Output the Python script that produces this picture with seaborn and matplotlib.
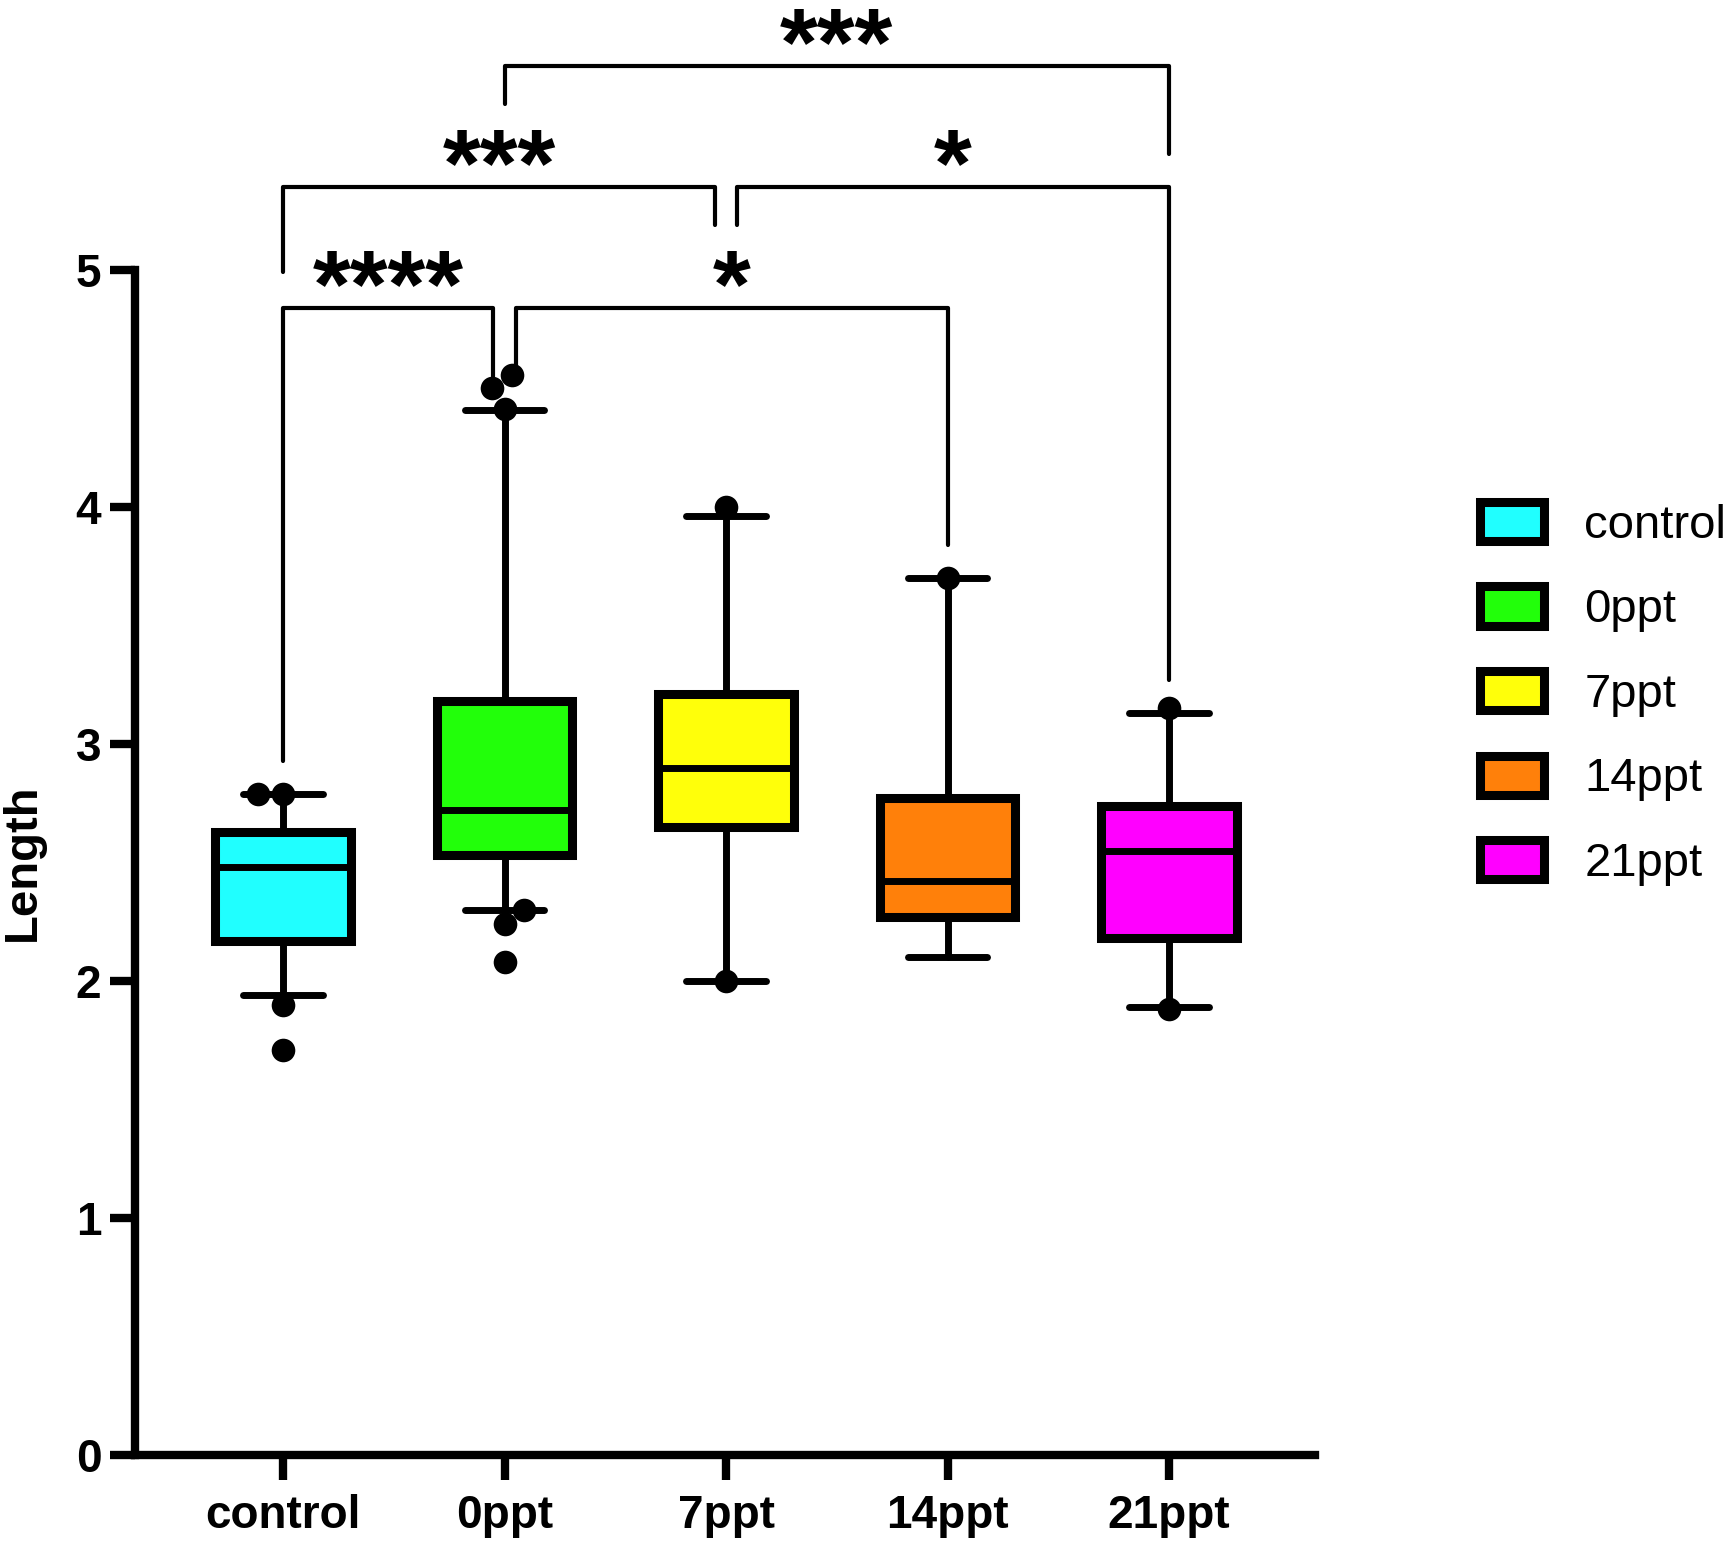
import pandas as pd
import matplotlib.pyplot as plt
import seaborn as sns
from matplotlib.patches import Patch

# Box summary values
groups = ['control', '0ppt', '7ppt', '14ppt', '21ppt']
q1 = [2.17, 2.53, 2.65, 2.27, 2.18]
med = [2.48, 2.72, 2.90, 2.42, 2.55]
q3 = [2.63, 3.18, 3.21, 2.77, 2.74]
whis_lo = [1.94, 2.30, 2.00, 2.10, 1.89]
whis_hi = [2.79, 4.41, 3.96, 3.70, 3.13]
colors = ['#20FFFF', '#22FF0A', '#FFFF0A', '#FF800A', '#FF00FF']

# individual points drawn beyond / at the whiskers
flier_group = ['control', 'control', 'control', 'control',
               '0ppt', '0ppt', '0ppt', '0ppt', '0ppt', '0ppt',
               '7ppt', '7ppt', '14ppt', '21ppt', '21ppt']
flier_value = [2.79, 2.79, 1.90, 1.71,
               4.415, 4.50, 4.556, 2.30, 2.24, 2.08,
               4.00, 2.00, 3.70, 3.15, 1.88]

# significance comparisons
comp_left = ['control', '0ppt', 'control', '7ppt', '0ppt']
comp_right = ['0ppt', '14ppt', '7ppt', '21ppt', '21ppt']
comp_label = ['****', '*', '***', '*', '***']
comp_level = [4.84, 4.84, 5.35, 5.35, 5.86]
comp_left_end = [2.93, 4.54, 4.99, 5.19, 5.70]
comp_right_end = [4.54, 3.84, 5.19, 3.27, 5.49]
comp_left_dx = [0.0, 0.05, 0.0, 0.05, 0.0]
comp_right_dx = [-0.05, 0.0, -0.05, 0.0, 0.0]

sns.set_style('ticks')
plt.rcParams['font.family'] = ['Liberation Sans', 'DejaVu Sans']
plt.rcParams.update({'text.color': 'black', 'axes.labelcolor': 'black',
                     'xtick.color': 'black', 'ytick.color': 'black',
                     'axes.edgecolor': 'black'})

fig = plt.figure(figsize=(17.26, 15.42), dpi=100)
ax = fig.add_axes([0.078, 0.0564, 0.684, 0.7686])

stats = []
for i, g in enumerate(groups):
    stats.append(dict(label=g, q1=q1[i], med=med[i], q3=q3[i],
                      whislo=whis_lo[i], whishi=whis_hi[i], fliers=[]))

bp = ax.bxp(stats, positions=range(len(groups)), widths=0.61, capwidths=0.36,
            patch_artist=True, showfliers=False,
            boxprops=dict(linewidth=6.5, edgecolor='black'),
            whiskerprops=dict(linewidth=5, color='black'),
            capprops=dict(linewidth=5, color='black', solid_capstyle='round'),
            medianprops=dict(linewidth=5, color='black'))
for patch, c in zip(bp['boxes'], colors):
    patch.set_facecolor(c)

fliers = pd.DataFrame({'group': flier_group, 'value': flier_value})
sns.swarmplot(data=fliers, x='group', y='value', order=groups, color='black',
              size=17, ax=ax, zorder=5)

ax.set_xlim(-0.67, 4.66)
ax.set_ylim(0, 5)
ax.set_yticks(range(6))
ax.set_xticks(range(len(groups)))
ax.set_xticklabels(groups)
ax.set_xlabel('')
ax.set_ylabel('Length', fontsize=34, fontweight='bold', labelpad=22)

sns.despine(ax=ax)
for side in ['left', 'bottom']:
    ax.spines[side].set_linewidth(6)
ax.tick_params(axis='both', width=6, length=18, labelsize=33, color='black')
ax.tick_params(axis='x', pad=10)
ax.tick_params(axis='y', pad=6)
for lab in ax.get_xticklabels() + ax.get_yticklabels():
    lab.set_fontweight('bold')

# significance brackets
for i in range(len(comp_label)):
    xa = groups.index(comp_left[i]) + comp_left_dx[i]
    xb = groups.index(comp_right[i]) + comp_right_dx[i]
    y = comp_level[i]
    ax.plot([xa, xa, xb, xb], [comp_left_end[i], y, y, comp_right_end[i]],
            color='black', lw=3, clip_on=False, solid_capstyle='round')
    ax.text((xa + xb) / 2, y - 0.04, comp_label[i], ha='center', va='baseline',
            fontsize=70, fontweight='bold', clip_on=False)

handles = [Patch(facecolor=c, edgecolor='black', linewidth=6.5) for c in colors]
fig.legend(handles, groups, loc='center left', bbox_to_anchor=(0.844, 0.55),
           frameon=False, fontsize=34, handlelength=1.35, handleheight=0.9,
           handletextpad=0.85, labelspacing=0.82, borderpad=0)

fig.savefig('out.png', dpi=100)
